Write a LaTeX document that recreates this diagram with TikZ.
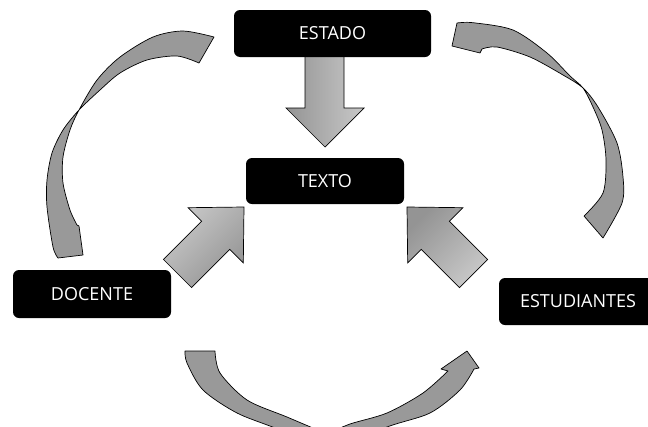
\documentclass[tikz,border=0pt]{standalone}
\usepackage{fontspec}
\setmainfont{Open Sans}
\definecolor{arrowgray}{RGB}{153,153,153}
\definecolor{shadelight}{RGB}{200,200,200}
\definecolor{shadedark}{RGB}{148,148,148}
\begin{document}
\begin{tikzpicture}[x=1pt,y=-1pt,
  label box/.style={fill=black, rounded corners=6pt, text=white, inner sep=0pt,
    minimum width=158pt, minimum height=47pt, font=\fontsize{18}{21}\selectfont},
  block arrow/.style={draw=black, line width=0.7pt, line join=miter},
  bent arrow/.style={draw=black, fill=arrowgray, line width=0.7pt, line join=round}]
\useasboundingbox (0,0) rectangle (648,426);
\clip (0,0) rectangle (648,426);

% straight block arrows towards TEXTO
\shadedraw[block arrow, left color=shadedark, right color=shadelight]
  (305,50) -- (305,108) -- (286,108) -- (325,147) -- (364,108) -- (344,108) -- (344,50) -- cycle;
\shadedraw[block arrow, top color=shadelight, bottom color=shadedark, shading angle=45]
  (244,207) -- (243.3,262.9) -- (229.8,249.4) -- (191.6,287.6) -- (163.4,259.4)
  -- (201.6,221.2) -- (188.1,207.7) -- cycle;
\shadedraw[block arrow, top color=shadedark, bottom color=shadelight, shading angle=45]
  (407,207) -- (407.7,262.9) -- (421.2,249.4) -- (459.4,287.6) -- (487.6,259.4)
  -- (449.4,221.2) -- (462.9,207.7) -- cycle;

% twisted curved arrows of the cycle
\filldraw[bent arrow]
  plot[smooth] coordinates {(214,37) (183,31) (153,37) (120,57) (97,80) (79,110)
    (70,130) (63,157) (63,183) (70,210) (77,225)}
  -- (79,226) -- (83,255) -- (58,258)
  -- plot[smooth] coordinates {(58,258) (53,247) (47,207) (47,180) (52,153) (63,130)
    (79,110) (100,90) (120,73) (147,60) (177,56) (199,63)} -- cycle;

\filldraw[bent arrow]
  (452,46) -- (457,23)
  -- plot[smooth] coordinates {(457,23) (473,22.7) (513,30) (547,53) (570,76) (583,88)
    (593,107) (602,130) (606,160) (603,193) (584,216)}
  -- (603,238)
  -- plot[smooth] coordinates {(603,238) (622,203) (623,177) (617,143) (598,107) (583,88)
    (563,75) (530,57) (497,47) (482,49)}
  -- (480,53) -- cycle;

\filldraw[bent arrow]
  (185,351) -- (215,351)
  -- plot[smooth] coordinates {(215,351) (220,373) (247,400) (287,417) (327,434)}
  -- plot[smooth] coordinates {(327,434) (350,424) (387,413) (423,393) (448,371)}
  -- (441,369) -- (467,351) -- (479,368) -- (474,369)
  -- plot[smooth] coordinates {(474,369) (460,390) (430,413) (387,427) (327,452)}
  -- plot[smooth] coordinates {(327,452) (280,430) (237,413) (203,390) (187,363) (185,351)}
  -- cycle;

% labelled boxes
\node[label box, minimum width=197pt] (estado) at (332.5,33.5) {ESTADO};
\node[label box, minimum height=46pt] (texto) at (325,181) {TEXTO};
\node[label box, minimum height=48pt] (docente) at (92,294) {DOCENTE};
\node[label box] (estudiantes) at (578,301.5) {ESTUDIANTES};
\end{tikzpicture}
\end{document}
